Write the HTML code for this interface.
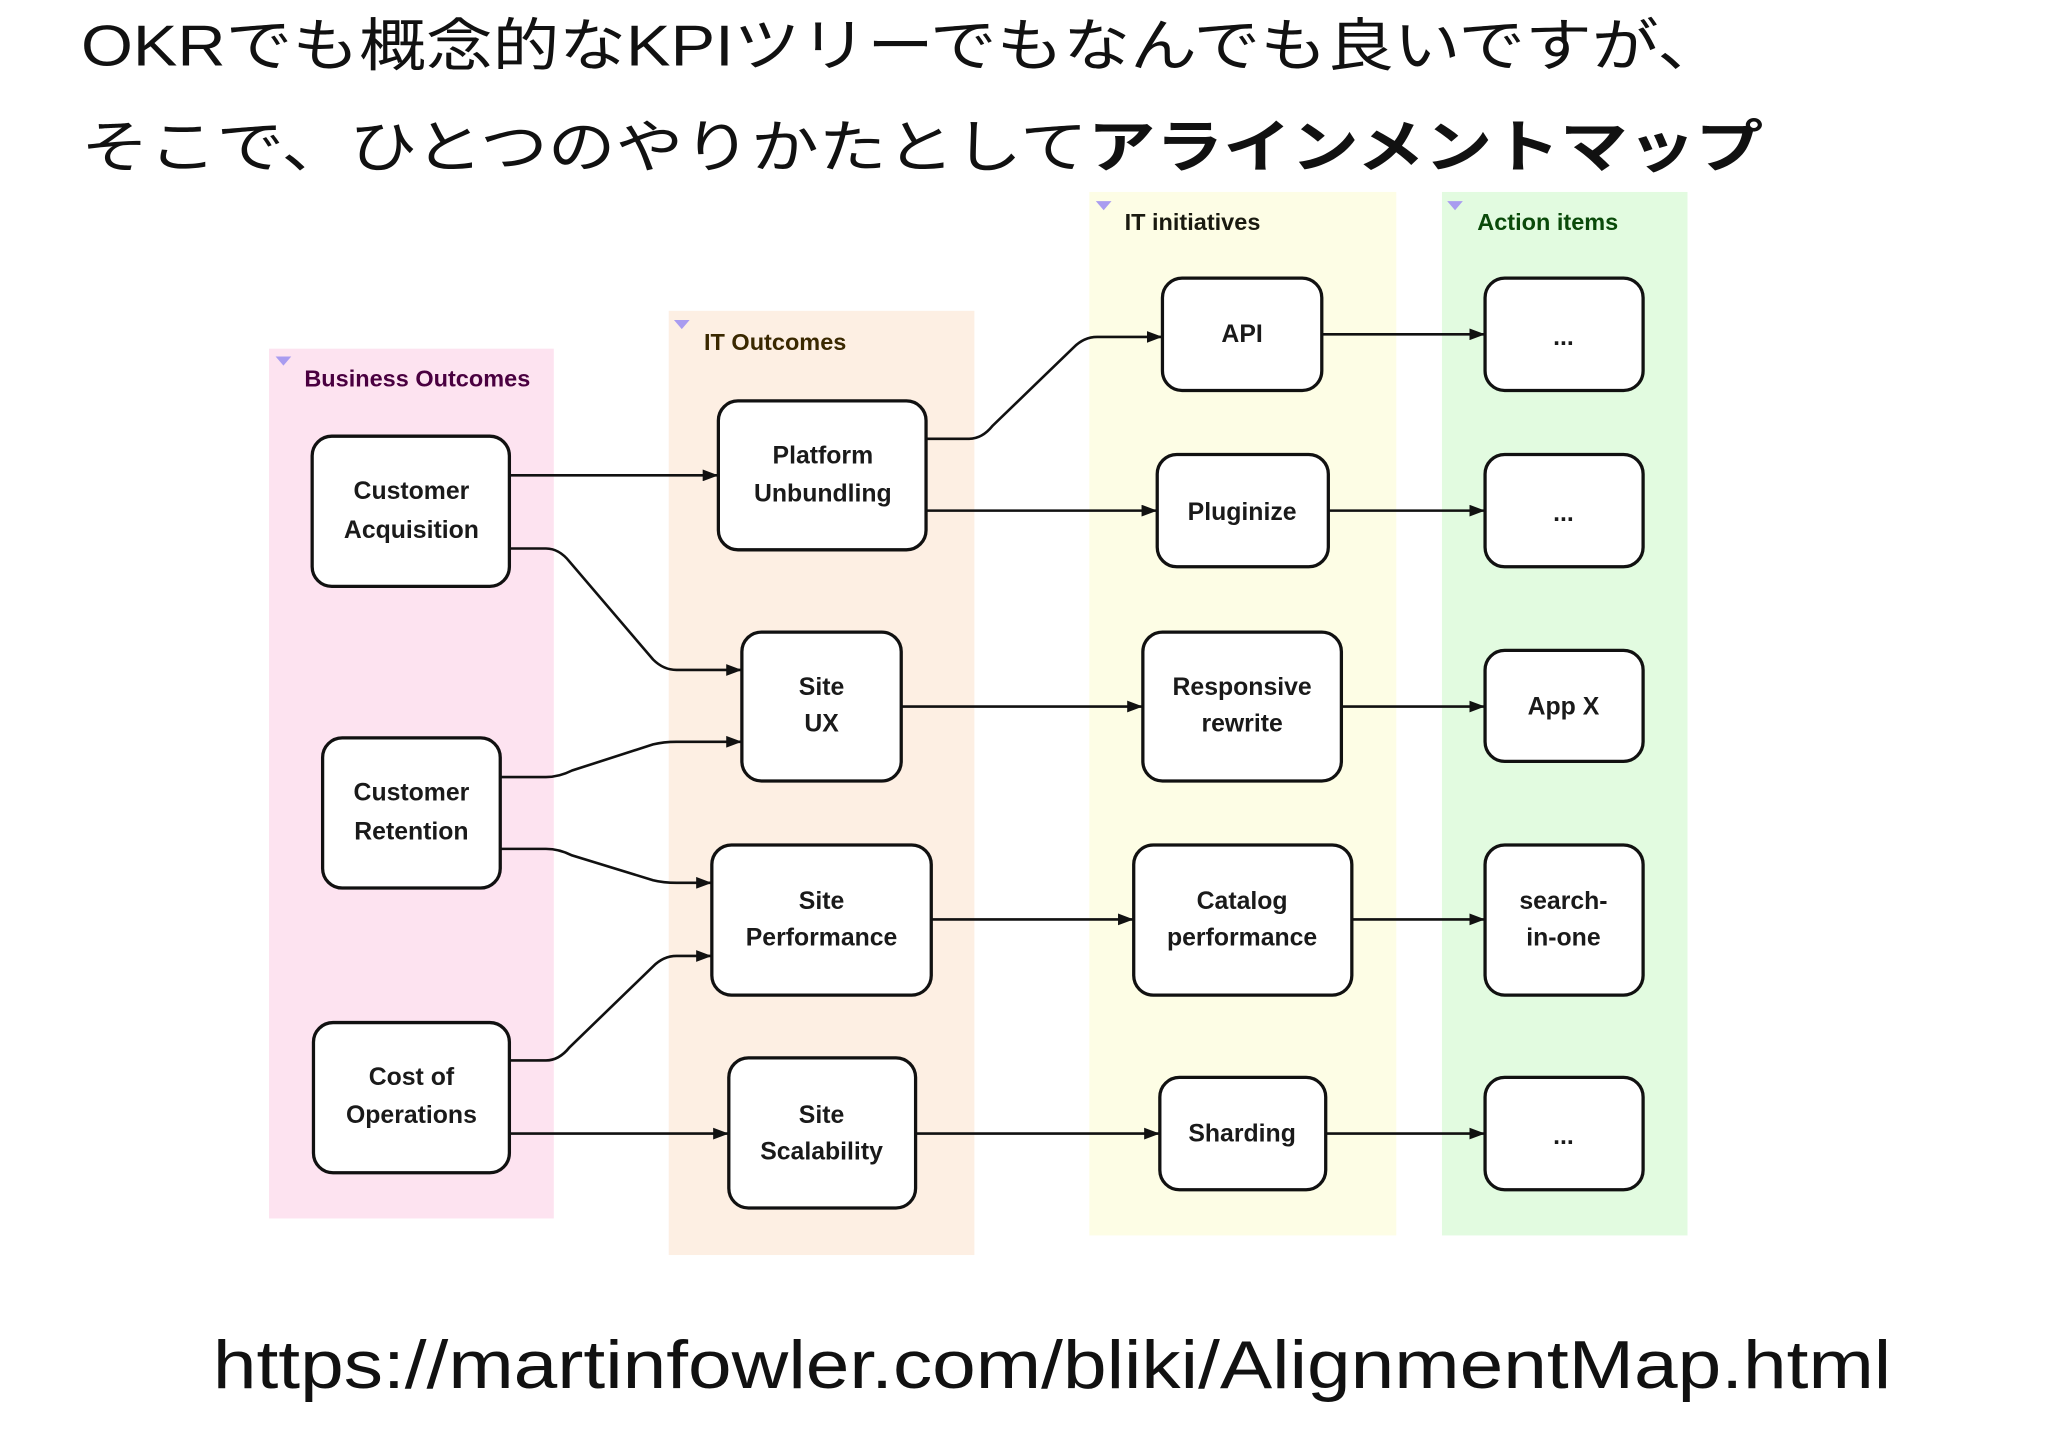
<!DOCTYPE html>
<html><head><meta charset="utf-8"><style>
html,body{margin:0;padding:0;background:#fff;width:2048px;height:1447px;overflow:hidden}
svg{display:block}
.n{font-family:"Liberation Sans","DejaVu Sans",sans-serif;font-weight:bold;font-size:19px;fill:#1a1a1a;text-anchor:middle}
.l{font-family:"Liberation Sans",sans-serif;font-weight:bold;font-size:18px}
.j{font-family:"Liberation Sans","Noto Sans CJK JP",sans-serif;font-size:44px;fill:#111}
</style></head><body>
<svg width="2048" height="1447" viewBox="0 0 1568 1108" preserveAspectRatio="none" xmlns="http://www.w3.org/2000/svg">
<defs><marker id="a" markerWidth="12" markerHeight="9" refX="12" refY="4.5" orient="auto" markerUnits="userSpaceOnUse"><path d="M0,0 L12,4.5 L0,9 z" fill="#111"/></marker></defs>
<text class="j" x="62" y="50" textLength="1258" lengthAdjust="spacingAndGlyphs">OKRでも概念的なKPIツリーでもなんでも良いですが、</text>
<text class="j" x="62" y="128" textLength="1288" lengthAdjust="spacingAndGlyphs">そこで、ひとつのやりかたとして<tspan font-weight="bold">アラインメントマップ</tspan></text>
<rect x="206" y="267" width="218" height="666" fill="#fde3f0"/>
<rect x="512" y="238" width="234" height="723" fill="#fdefe3"/>
<rect x="834" y="147" width="235" height="799" fill="#fdfde5"/>
<rect x="1104" y="147" width="188" height="799" fill="#e2fbe0"/>
<path d="M211,273 l12,0 l-6,7z M516,245 l12,0 l-6,7z M839,154 l12,0 l-6,7z M1108,154 l12,0 l-6,7z" fill="#a99cf0"/>
<text class="l" x="233" y="296" fill="#4a0040">Business Outcomes</text>
<text class="l" x="539" y="268" fill="#3a2800">IT Outcomes</text>
<text class="l" x="861" y="176" fill="#1a1a10">IT initiatives</text>
<text class="l" x="1131" y="176" fill="#0a4a0a">Action items</text>
<g fill="none" stroke="#111" stroke-width="2" marker-end="url(#a)">
<path d="M390,364 L550,364"/>
<path d="M390,420 L418,420 Q428,420 436,430 L500,505 Q508,513 518,513 L568,513"/>
<path d="M383,595 L418,595 Q428,595 438,590 L500,570 Q508,568 518,568 L568,568"/>
<path d="M383,650 L418,650 Q428,650 438,655 L500,674 Q508,676 518,676 L545,676"/>
<path d="M390,812 L418,812 Q428,812 436,802 L500,740 Q508,732 518,732 L545,732"/>
<path d="M390,868 L558,868"/>
<path d="M709,336 L742,336 Q752,336 760,326 L822,266 Q830,258 840,258 L890,258"/>
<path d="M709,391 L886,391"/>
<path d="M690,541 L875,541"/>
<path d="M713,704 L868,704"/>
<path d="M701,868 L888,868"/>
<path d="M1012,256 L1137,256"/>
<path d="M1017,391 L1137,391"/>
<path d="M1027,541 L1137,541"/>
<path d="M1035,704 L1137,704"/>
<path d="M1015,868 L1137,868"/>
</g>
<g fill="#fff" stroke="#111" stroke-width="2.5">
<rect x="239" y="334" width="151" height="115" rx="15"/>
<rect x="247" y="565" width="136" height="115" rx="15"/>
<rect x="240" y="783" width="150" height="115" rx="15"/>
<rect x="550" y="307" width="159" height="114" rx="15"/>
<rect x="568" y="484" width="122" height="114" rx="15"/>
<rect x="545" y="647" width="168" height="115" rx="15"/>
<rect x="558" y="810" width="143" height="115" rx="15"/>
<rect x="890" y="213" width="122" height="86" rx="15"/>
<rect x="886" y="348" width="131" height="86" rx="15"/>
<rect x="875" y="484" width="152" height="114" rx="15"/>
<rect x="868" y="647" width="167" height="115" rx="15"/>
<rect x="888" y="825" width="127" height="86" rx="15"/>
<rect x="1137" y="213" width="121" height="86" rx="15"/>
<rect x="1137" y="348" width="121" height="86" rx="15"/>
<rect x="1137" y="498" width="121" height="85" rx="15"/>
<rect x="1137" y="647" width="121" height="115" rx="15"/>
<rect x="1137" y="825" width="121" height="86" rx="15"/>
</g>
<text class="n" x="315" y="382">Customer</text><text class="n" x="315" y="412">Acquisition</text>
<text class="n" x="315" y="613">Customer</text><text class="n" x="315" y="643">Retention</text>
<text class="n" x="315" y="831">Cost of</text><text class="n" x="315" y="860">Operations</text>
<text class="n" x="630" y="355">Platform</text><text class="n" x="630" y="384">Unbundling</text>
<text class="n" x="629" y="532">Site</text><text class="n" x="629" y="560">UX</text>
<text class="n" x="629" y="696">Site</text><text class="n" x="629" y="724">Performance</text>
<text class="n" x="629" y="860">Site</text><text class="n" x="629" y="888">Scalability</text>
<text class="n" x="951" y="262">API</text>
<text class="n" x="951" y="398">Pluginize</text>
<text class="n" x="951" y="532">Responsive</text><text class="n" x="951" y="560">rewrite</text>
<text class="n" x="951" y="696">Catalog</text><text class="n" x="951" y="724">performance</text>
<text class="n" x="951" y="874">Sharding</text>
<text class="n" x="1197" y="264" font-size="14">...</text>
<text class="n" x="1197" y="399" font-size="14">...</text>
<text class="n" x="1197" y="547">App X</text>
<text class="n" x="1197" y="696">search-</text><text class="n" x="1197" y="724">in-one</text>
<text class="n" x="1197" y="876" font-size="14">...</text>
<text x="163" y="1063" font-family="Liberation Sans, sans-serif" font-size="52" fill="#111" textLength="1285" lengthAdjust="spacingAndGlyphs">https://martinfowler.com/bliki/AlignmentMap.html</text>
</svg>
</body></html>
